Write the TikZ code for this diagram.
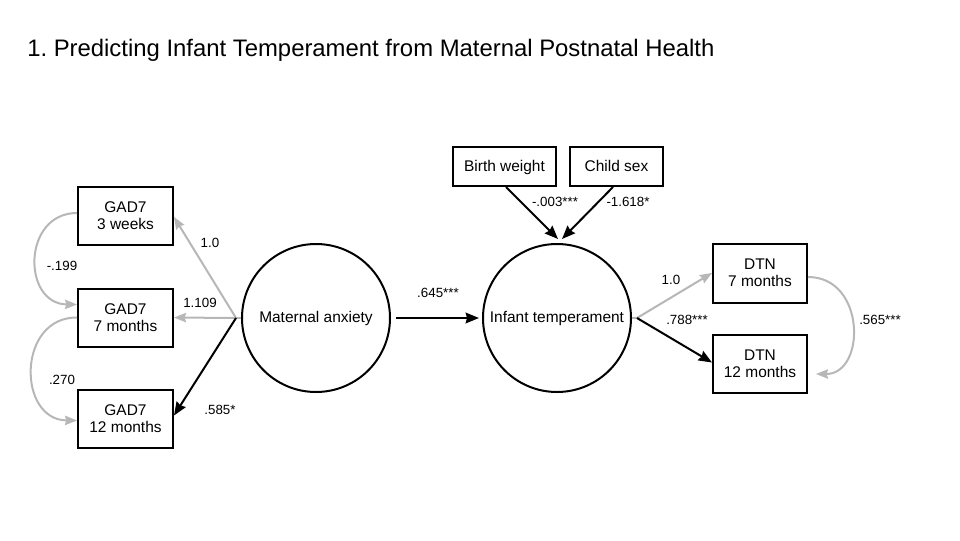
\documentclass[tikz,border=0pt]{standalone}
\usepackage{fontspec}
\setmainfont{Liberation Sans}
\usetikzlibrary{arrows.meta,calc}
\definecolor{pathgray}{RGB}{183,183,183}
\frenchspacing
\begin{document}
\begin{tikzpicture}[x=0.75pt,y=-0.75pt,
  box/.style={draw=black,line width=1.5pt,fill=white,inner sep=0pt,align=center,
    font=\fontsize{11.6pt}{12.75pt}\selectfont},
  onebox/.style={box,text height=0.85em,text depth=0.13em},
  latent/.style={draw=black,line width=1.5pt,circle,inner sep=0pt,minimum size=111pt,
    text height=0.85em,text depth=0.13em,
    font=\fontsize{11.6pt}{12.75pt}\selectfont},
  blackarrow/.style={draw=black,line width=1.5pt,-{Stealth[length=10pt,width=8pt,inset=1pt]}},
  grayarrow/.style={draw=pathgray,line width=1.5pt,-{Stealth[length=9pt,width=7pt,inset=1pt]}},
  grayline/.style={draw=pathgray,line width=1.5pt},
  blackline/.style={draw=black,line width=1.5pt},
  lab/.style={font=\fontsize{10pt}{12pt}\selectfont,inner sep=0pt},
  title/.style={font=\fontsize{17.9pt}{21pt}\selectfont,inner sep=0pt,anchor=base west}]
\useasboundingbox (0,0) rectangle (960,540);
\node[title] (ttl) at (27,56) {1. Predicting Infant Temperament from Maternal Postnatal Health};

% indicators of maternal anxiety
\node[box,minimum width=71.25pt,minimum height=43.5pt] (g3) at (125.5,216) {GAD7\\3 weeks};
\node[box,minimum width=71.25pt,minimum height=43.5pt] (g7) at (125.5,317.5) {GAD7\\7 months};
\node[box,minimum width=71.25pt,minimum height=43.5pt] (g12) at (125.5,418.5) {GAD7\\12 months};

% latent variables
\node[latent] (ma) at (316,318) {Maternal anxiety};
\node[latent] (it) at (557,318) {Infant temperament};

% covariates
\node[onebox,minimum width=77.25pt,minimum height=29.25pt] (bw) at (504.5,166.5) {Birth weight};
\node[onebox,minimum width=69.75pt,minimum height=29.25pt] (cs) at (616.5,166.5) {Child sex};

% DTN indicators
\node[box,minimum width=70.5pt,minimum height=44.25pt] (d7) at (760,273) {DTN\\7 months};
\node[box,minimum width=70.5pt,minimum height=43.5pt] (d12) at (760,363.5) {DTN\\12 months};

% hub coordinates
\coordinate (mahub) at ($(ma.west)+(-5,0)$);
\coordinate (ithub) at ($(it.east)+(5,0)$);

% loadings of maternal anxiety
\draw[grayline] (ma.west) -- (mahub);
\draw[grayarrow] (mahub) -- ($(g3.east)+(0,1)$);
\draw[grayarrow] (mahub) -- (g7.east);
\draw[blackarrow] (mahub) -- ($(g12.east)+(0,-3)$);
\node[lab] (l1) at (210,243) {1.0};
\node[lab] (l2) at (200,303) {1.109};
\node[lab] (l3) at (220,410) {.585*};

% residual covariances GAD7
\draw[grayarrow] ($(g3.west)+(0,-3)$) .. controls (22,213) and (22,304) .. ($(g7.west)+(0,-13)$);
\draw[grayarrow] (g7.west) .. controls (17,317) and (17,420) .. ($(g12.west)+(0,2)$);
\node[lab] (l4) at (62,266) {-.199};
\node[lab] (l5) at (62,380) {.270};

% structural path
\draw[blackarrow] ($(ma.east)+(5,0)$) -- ($(it.west)+(-3,0)$);
\node[lab] (l6) at (438,293) {.645***};

% covariate paths
\draw[blackarrow] ($(bw.south)+(1.5,0)$) -- ($(it.north)+(1,-4)$);
\draw[blackarrow] ($(cs.south)+(-3.5,0)$) -- ($(it.north)+(5,-4)$);
\node[lab] (l7) at (555,202) {-.003***};
\node[lab] (l8) at (628,202) {-1.618*};

% loadings of infant temperament
\draw[grayline] (it.east) -- (ithub);
\draw[grayarrow] (ithub) -- (d7.west);
\draw[blackarrow] (ithub) -- ($(d12.west)+(0,-1)$);
\node[lab] (l9) at (671,280) {1.0};
\node[lab] (l10) at (687,320) {.788***};

% residual covariance DTN
\draw[grayarrow] ($(d7.east)+(0,4)$) .. controls (866,277) and (866,374) .. ($(d12.east)+(8,10.5)$);
\node[lab] (l11) at (880,320) {.565***};
\end{tikzpicture}
\end{document}
